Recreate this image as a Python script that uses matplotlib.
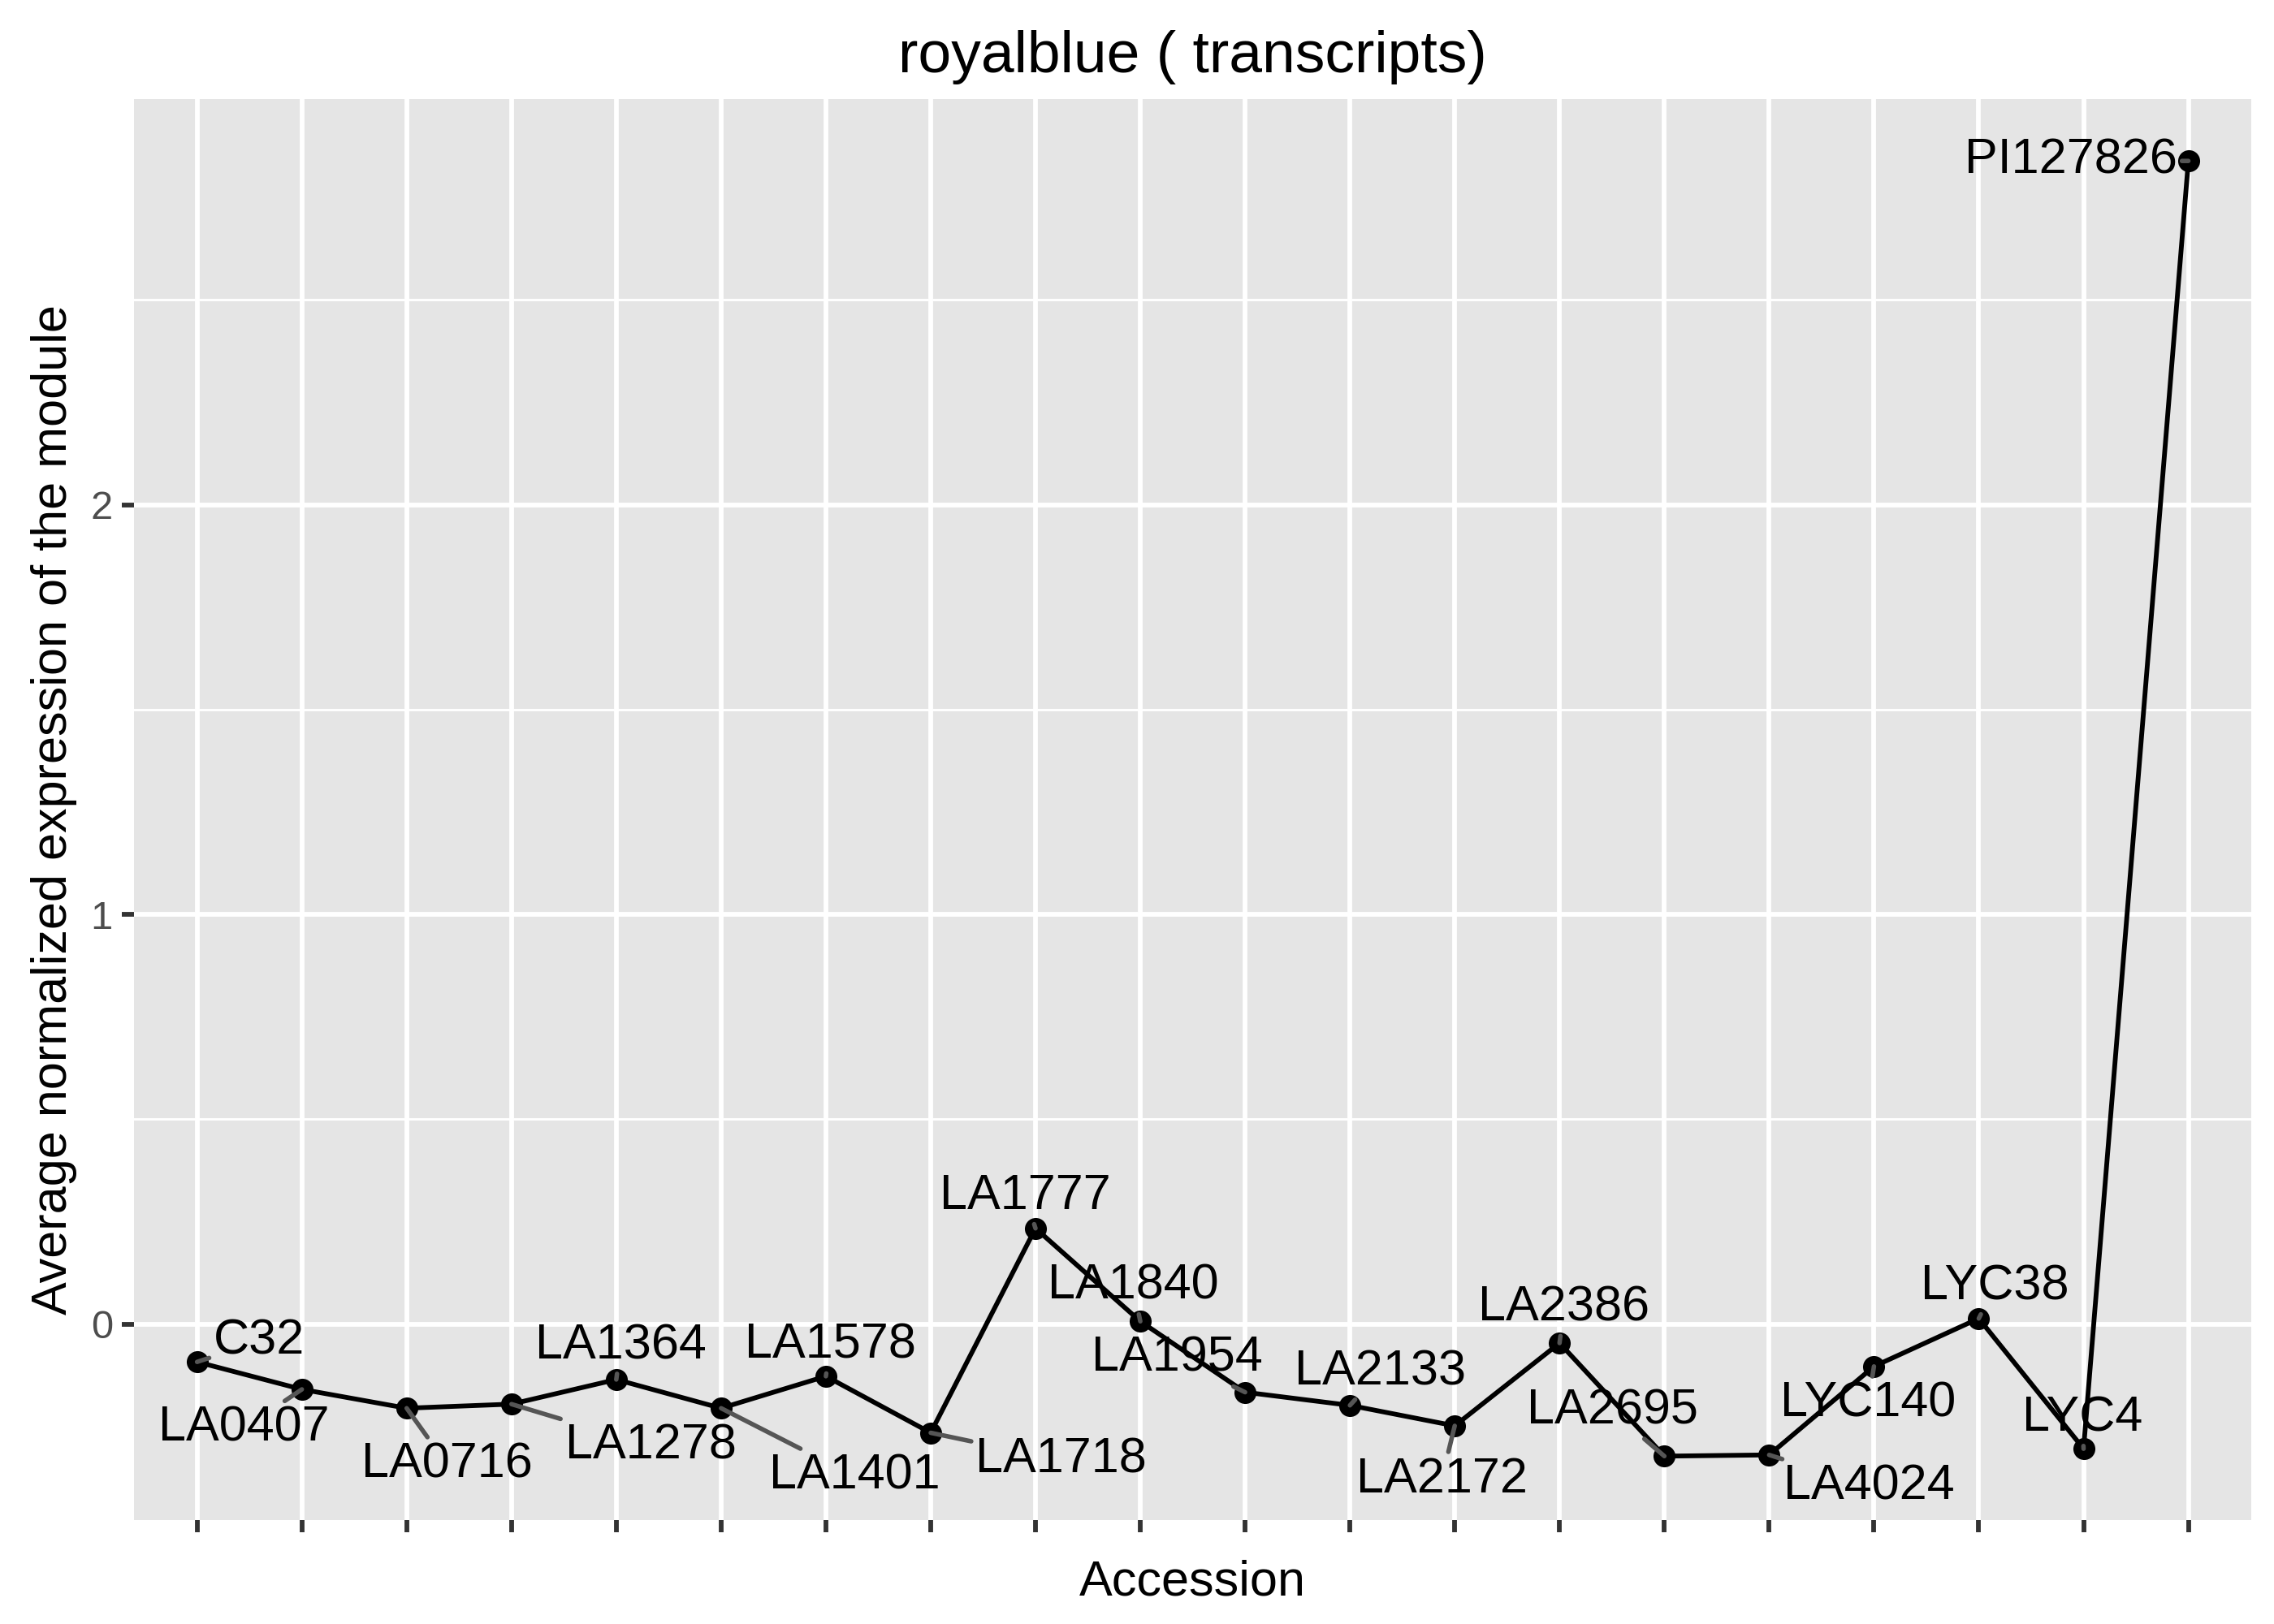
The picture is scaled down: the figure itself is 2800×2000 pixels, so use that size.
import numpy as np
import matplotlib
matplotlib.use("Agg")
import matplotlib.pyplot as plt
from matplotlib.ticker import MultipleLocator

plt.rcParams['font.family'] = ['Liberation Sans', 'DejaVu Sans']

# accessions and module expression
accessions = ["C32", "LA0407", "LA0716", "LA1278", "LA1364", "LA1401", "LA1578",
              "LA1718", "LA1777", "LA1840", "LA1954", "LA2133", "LA2172", "LA2386",
              "LA2695", "LA4024", "LYC140", "LYC38", "LYC4", "PI127826"]
expression = [-0.092, -0.159, -0.205, -0.195, -0.135, -0.205, -0.127,
              -0.265, 0.234, 0.007, -0.166, -0.198, -0.248, -0.046,
              -0.322, -0.319, -0.103, 0.014, -0.304, 2.839]

title = "royalblue ( transcripts)"
xlabel = "Accession"
ylabel = "Average normalized expression of the module"

# repel-like label offsets (points)
label_offsets = [(27.6, 9.0), (-25.7, -17.4), (18.0, -25.1), (61.7, -18.6),
                 (1.9, 14.8), (59.2, -30.2), (1.9, 13.5), (57.9, -12.2),
                 (-4.5, 14.1), (-3.2, 15.4), (-30.2, 14.8), (13.5, 14.8),
                 (-5.8, -23.8), (1.9, 15.4), (-23.1, 19.9), (44.4, -14.1),
                 (-2.6, -16.7), (7.1, 14.1), (-0.6, 13.5), (-52.0, 0.0)]

fig = plt.figure(figsize=(14, 10), dpi=200)
ax = fig.add_axes([0.059, 0.064, 0.931, 0.875])
ax.set_facecolor("#E5E5E5")
for s in ax.spines.values():
    s.set_visible(False)

x = np.arange(len(accessions))
ax.plot(x, expression, color="black", lw=2.1, zorder=3)
ax.scatter(x, expression, s=95, color="black", zorder=4, linewidths=0)

for xi, yi, name, off in zip(x, expression, accessions, label_offsets):
    ax.annotate(name, xy=(xi, yi), xytext=off, textcoords="offset points",
                ha="center", va="center", fontsize=22, color="black", zorder=5,
                arrowprops=dict(arrowstyle="-", color="#555555", lw=2,
                                shrinkA=0, shrinkB=0))

ax.set_xlim(-0.6, len(accessions) - 0.4)
ax.set_ylim(-0.478, 2.99)
ax.set_xticks(x)
ax.set_xticklabels([])
ax.yaxis.set_major_locator(MultipleLocator(1))
ax.yaxis.set_minor_locator(MultipleLocator(0.5))
ax.grid(which="major", color="white", lw=2.1)
ax.grid(which="minor", axis="y", color="white", lw=1.05)
ax.set_axisbelow(True)
ax.tick_params(axis="both", which="major", length=5.5, width=2.1, color="#333333",
               labelsize=17.6, labelcolor="#4D4D4D", pad=4)
ax.tick_params(axis="y", which="minor", length=0)

ax.set_xlabel(xlabel, fontsize=22, labelpad=8)
ax.set_ylabel(ylabel, fontsize=22, labelpad=6)
ax.set_title(title, fontsize=26.4, pad=12)

fig.savefig("out.png", dpi=200)
